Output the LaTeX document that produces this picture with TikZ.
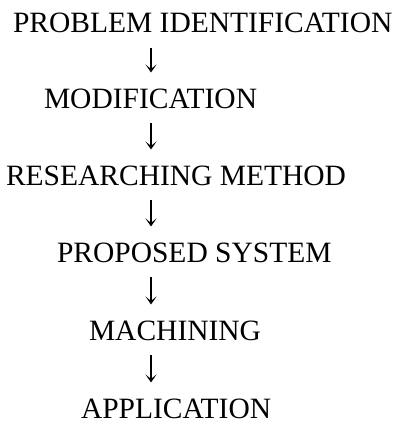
\documentclass[tikz,border=0pt]{standalone}
\usepackage{fontspec}
\setmainfont{Liberation Serif}
\usetikzlibrary{arrows.meta,calc}
\begin{document}
\begin{tikzpicture}[x=1pt,y=-1pt,
  stage/.style={anchor=base west,inner sep=0pt,outer sep=0pt,
    font=\fontsize{29.5}{29.5}\selectfont},
  flow/.style={line width=1.2pt,
    -{Stealth[length=8pt,width=11pt,inset=4.5pt]}}]
  \useasboundingbox (0,0) rectangle (398,428);
  % flow axis
  \coordinate (ax) at (151,0);
  % stages
  \node[stage] (s1) at (13,33)  {PROBLEM IDENTIFICATION};
  \node[stage] (s2) at (44,108) {MODIFICATION};
  \node[stage] (s3) at (6,185)  {RESEARCHING METHOD};
  \node[stage] (s4) at (57,262) {PROPOSED SYSTEM};
  \node[stage] (s5) at (89,340) {MACHINING};
  \node[stage] (s6) at (81,418) {APPLICATION};
  % arrows between stages
  \foreach \a/\b in {s1/s2,s2/s3,s3/s4,s4/s5,s5/s6}
    \draw[flow] ([yshift=-15pt]\a.south -| ax) -- ([yshift=16pt]\b.north -| ax);
\end{tikzpicture}
\end{document}
